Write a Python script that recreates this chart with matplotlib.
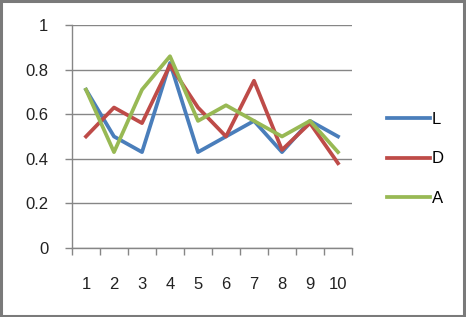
import matplotlib
matplotlib.use("Agg")
import matplotlib.pyplot as plt
from matplotlib.patches import Rectangle

categories = [1, 2, 3, 4, 5, 6, 7, 8, 9, 10]
series_l = [0.71, 0.50, 0.43, 0.83, 0.43, 0.50, 0.57, 0.43, 0.57, 0.50]
series_d = [0.50, 0.63, 0.56, 0.82, 0.63, 0.50, 0.75, 0.44, 0.56, 0.38]
series_a = [0.71, 0.43, 0.71, 0.86, 0.57, 0.64, 0.57, 0.50, 0.57, 0.43]
y_ticks = [0, 0.2, 0.4, 0.6, 0.8, 1]
y_labels = ["0", "0.2", "0.4", "0.6", "0.8", "1"]

plt.rcParams["font.family"] = ["Liberation Sans", "DejaVu Sans"]

fig = plt.figure(figsize=(4.66, 3.17), dpi=100)
ax = fig.add_axes([72 / 466, 1 - 248 / 317, 280 / 466, 223 / 317])

x = list(range(len(categories)))
ax.plot(x, series_l, color="#4A7EBB", lw=2.7, label="L", solid_joinstyle="round")
ax.plot(x, series_d, color="#BE4B48", lw=2.7, label="D", solid_joinstyle="round")
ax.plot(x, series_a, color="#98B954", lw=2.7, label="A", solid_joinstyle="round")

ax.set_xlim(-0.5, len(categories) - 0.5)
ax.set_ylim(0, 1)
ax.set_yticks(y_ticks)
ax.set_yticklabels(y_labels)
ax.set_xticks(x)
ax.set_xticklabels([str(c) for c in categories])
ax.set_xticks([i - 0.5 for i in range(len(categories) + 1)], minor=True)
ax.tick_params(axis="x", which="major", length=0, pad=21, labelsize=12, colors="#222222")
ax.tick_params(axis="x", which="minor", length=5, color="#868686", width=1)
ax.tick_params(axis="y", length=5, color="#868686", width=1, pad=12, labelsize=12,
               labelcolor="#222222")

ax.grid(axis="y", color="#868686", lw=1)
ax.set_axisbelow(True)
for side in ("top", "right"):
    ax.spines[side].set_visible(False)
for side in ("left", "bottom"):
    ax.spines[side].set_color("#868686")
    ax.spines[side].set_linewidth(1)

fig.legend(loc="center left", bbox_to_anchor=(372 / 466, 1 - 159 / 317), frameon=False,
           fontsize=12, handlelength=2.6, handletextpad=0.1, labelspacing=1.45)

fig.patches.append(Rectangle((0.003, 0.004), 0.993, 0.992, transform=fig.transFigure,
                             fill=False, edgecolor="#7a7a7a", lw=2.2))

fig.savefig("out.png", dpi=100)
